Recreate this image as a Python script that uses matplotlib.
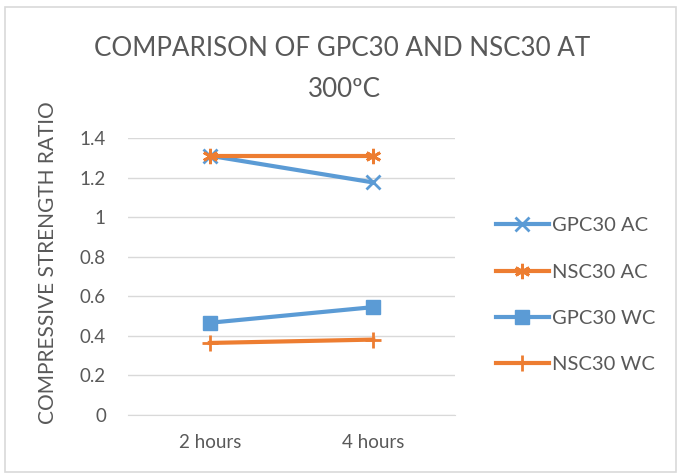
import matplotlib
matplotlib.use("Agg")
import matplotlib.pyplot as plt
from matplotlib.patches import Rectangle

plt.rcParams["font.family"] = ["Lato", "DejaVu Sans"]

durations = ["2 hours", "4 hours"]
gpc30_ac = [1.31, 1.175]
nsc30_ac = [1.31, 1.31]
gpc30_wc = [0.466, 0.545]
nsc30_wc = [0.364, 0.381]

BLUE, ORANGE, GREY = "#5B9BD5", "#ED7D31", "#595959"

fig = plt.figure(figsize=(6.78, 4.74), dpi=100)
fig.patches.append(Rectangle((0.007, 0.004), 0.99, 0.981, transform=fig.transFigure,
                             fill=False, ec="#D9D9D9", lw=1.2))
ax = fig.add_axes([0.189, 0.1245, 0.482, 0.5845])

x = range(len(durations))
ax.plot(x, gpc30_ac, color=BLUE, lw=3, marker="x", ms=10, mew=2, label="GPC30 AC")
ax.plot(x, nsc30_ac, color=ORANGE, lw=3, marker=(6, 2, 0), ms=11, mew=2, label="NSC30 AC")
ax.plot(x, gpc30_wc, color=BLUE, lw=3, marker="s", ms=10, label="GPC30 WC")
ax.plot(x, nsc30_wc, color=ORANGE, lw=3, marker="+", ms=12, mew=2, label="NSC30 WC")

ax.set_xlim(-0.5, 1.5)
ax.set_ylim(0, 1.4)
ax.set_xticks(list(x))
ax.set_xticklabels(durations)
ax.set_yticks([0, 0.2, 0.4, 0.6, 0.8, 1.0, 1.2, 1.4])
ax.set_yticklabels(["0", "0.2", "0.4", "0.6", "0.8", "1", "1.2", "1.4"])
ax.grid(axis="y", color="#D9D9D9", lw=1)
ax.set_axisbelow(True)
for s in ("top", "right", "left"):
    ax.spines[s].set_visible(False)
ax.spines["bottom"].set_color("#D9D9D9")
ax.tick_params(length=0, labelsize=13.5, colors=GREY)
ax.tick_params(axis="y", pad=16)
ax.tick_params(axis="x", pad=14)

ax.set_ylabel("COMPRESSIVE STRENGTH RATIO", fontsize=15, color=GREY)
ax.yaxis.set_label_coords(-0.215, 0.55)
fig.text(0.505, 0.898, "COMPARISON OF GPC30 AND NSC30 AT", ha="center", va="center",
         fontsize=18.7, color=GREY)
fig.text(0.508, 0.812, "300\u00baC", ha="center", va="center", fontsize=18.7, color=GREY)

leg = ax.legend(loc="center left", bbox_to_anchor=(0.717, 0.377),
                bbox_transform=fig.transFigure, frameon=False, fontsize=14.5,
                labelcolor=GREY, handlelength=2.6, labelspacing=1.45,
                handletextpad=0.15, borderpad=0)

fig.savefig("out.png", dpi=100)
